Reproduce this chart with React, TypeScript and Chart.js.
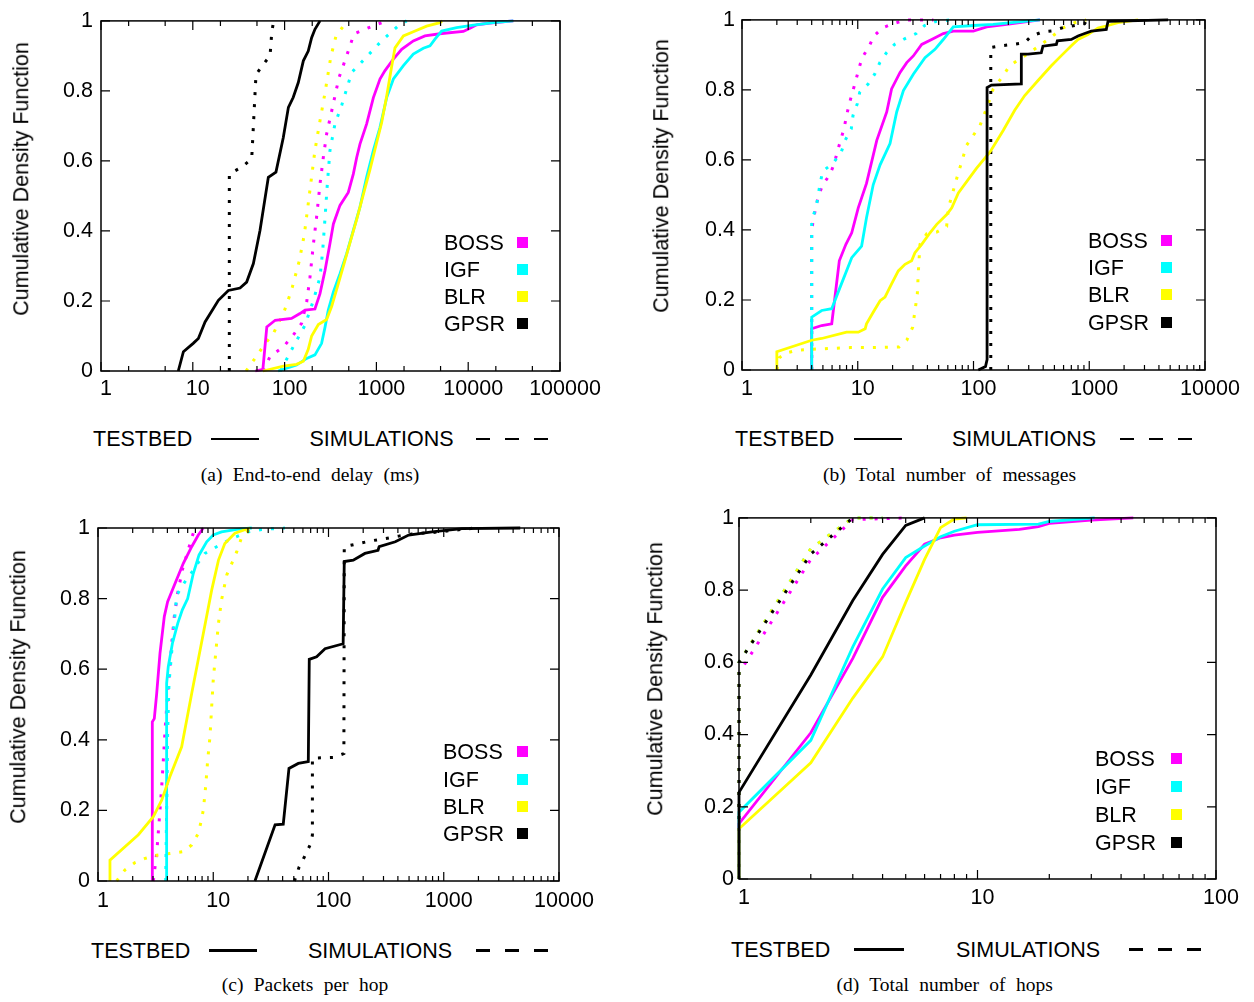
import React, { useEffect, useRef } from "react";
import { Chart, registerables } from "chart.js";

Chart.register(...registerables);

type Pt = [number, number];

// ---------- (a) End-to-end delay (ms) ----------
const delayBossTestbed: Pt[] = [[48,0],[58,0.005],[64,0.126],[79,0.145],[119,0.15],[147,0.164],[167,0.174],[214,0.177],[243,0.221],[276,0.288],[312,0.364],[340,0.42],[401,0.473],[494,0.51],[561,0.563],[610,0.61],[662,0.648],[783,0.706],[927,0.781],[1094,0.834],[1241,0.858],[1531,0.891],[1884,0.919],[2523,0.943],[3380,0.957],[5140,0.964],[8850,0.97],[10470,0.979],[12360,0.989],[17270,0.994],[31000,1]];
const delayIgfTestbed: Pt[] = [[85,0],[135,0.017],[174,0.036],[214,0.046],[253,0.079],[276,0.126],[299,0.174],[340,0.226],[401,0.278],[474,0.335],[561,0.402],[662,0.468],[783,0.554],[927,0.63],[1094,0.696],[1294,0.781],[1531,0.834],[1968,0.872],[2523,0.905],[3243,0.922],[3836,0.929],[4345,0.948],[5140,0.971],[7480,0.981],[11370,0.988],[18790,0.995],[31000,1]];
const delayBlrTestbed: Pt[] = [[58,0],[97,0.014],[135,0.019],[160,0.028],[181,0.062],[197,0.1],[233,0.133],[287,0.147],[326,0.185],[369,0.233],[436,0.299],[515,0.366],[610,0.433],[720,0.504],[851,0.575],[1006,0.652],[1140,0.709],[1294,0.785],[1466,0.87],[1594,0.923],[1968,0.957],[2523,0.969],[3524,0.985],[4930,0.995],[5200,1]];
const delayGpsrTestbed: Pt[] = [[6.95,0],[7.9,0.055],[10.1,0.079],[11.5,0.093],[13.6,0.14],[19,0.202],[24.4,0.23],[32.7,0.237],[38.6,0.254],[45.7,0.307],[54,0.402],[66.5,0.553],[80.5,0.568],[96.8,0.667],[110,0.753],[124,0.781],[141,0.824],[160,0.886],[181,0.914],[197,0.952],[214,0.976],[243,1]];
const delayBossSim: Pt[] = [[58.6,0],[69.3,0.041],[97,0.069],[124,0.102],[153,0.136],[174,0.197],[189,0.268],[206,0.363],[223,0.439],[243,0.534],[264,0.61],[287,0.677],[326,0.743],[391,0.838],[474,0.9],[570,0.963],[966,0.988],[1294,1]];
const delayIgfSim: Pt[] = [[90,0],[124,0.069],[167,0.131],[206,0.202],[243,0.268],[260,0.344],[276,0.439],[292,0.534],[312,0.63],[354,0.706],[419,0.759],[538,0.853],[662,0.877],[1140,0.943],[1733,0.986],[2138,1]];
const delayBlrSim: Pt[] = [[38,0],[47.6,0.036],[59.7,0.074],[75.4,0.107],[98.5,0.169],[119,0.231],[145,0.316],[164,0.39],[178,0.463],[192,0.532],[214,0.63],[243,0.715],[276,0.796],[318,0.896],[363,0.957],[482,1]];
const delayGpsrSim: Pt[] = [[25,0],[25,0.563],[34,0.582],[43.8,0.606],[44.5,0.64],[48.8,0.847],[58.6,0.876],[69.3,0.9],[71,0.933],[72.3,0.966],[76,1]];

// ---------- (b) Total number of messages ----------
const msgBossTestbed: Pt[] = [[4,0],[4,0.118],[4.88,0.127],[5.96,0.132],[6.93,0.312],[7.9,0.359],[8.87,0.392],[10.1,0.463],[11.9,0.533],[14.6,0.656],[17.8,0.737],[19.6,0.803],[23.2,0.85],[26.5,0.878],[30.2,0.897],[35.7,0.93],[43.5,0.944],[54.8,0.961],[66.9,0.968],[99.6,0.968],[130,0.98],[194,0.987],[375,1]];
const msgIgfTestbed: Pt[] = [[4,0],[4,0.151],[4.88,0.17],[5.96,0.175],[7.03,0.236],[8.87,0.321],[10.8,0.354],[11.9,0.435],[13.6,0.529],[15.6,0.586],[19,0.647],[21.7,0.737],[24.8,0.798],[30.2,0.845],[38.1,0.892],[46.5,0.916],[54.8,0.944],[66.9,0.98],[99.6,0.984],[148,0.987],[375,1]];
const msgBlrTestbed: Pt[] = [[2,0],[2,0.052],[4,0.085],[4.88,0.09],[8,0.108],[10.1,0.108],[11.6,0.118],[11.9,0.132],[13.6,0.165],[15.6,0.198],[17.2,0.208],[19.6,0.246],[22.4,0.283],[25.6,0.302],[29.2,0.312],[31.2,0.335],[35.7,0.359],[42.1,0.392],[48.1,0.416],[58.7,0.444],[64.9,0.463],[74,0.506],[106,0.576],[139,0.623],[181,0.685],[227,0.742],[277,0.784],[361,0.827],[470,0.869],[574,0.898],[700,0.926],[800,0.944],[975,0.958],[1190,0.977],[1452,0.984],[1770,0.992],[2640,1]];
const msgGpsrTestbed: Pt[] = [[110,0],[127,0.01],[131,0.03],[131,0.807],[143,0.814],[259,0.817],[259,0.902],[296,0.902],[385,0.906],[398,0.925],[520,0.93],[530,0.94],[700,0.944],[800,0.954],[912,0.961],[1042,0.968],[1404,0.973],[1452,0.996],[4800,1]];
const msgBossSim: Pt[] = [[4,0],[4,0.397],[4.13,0.43],[4.56,0.496],[4.98,0.529],[5.72,0.557],[6.23,0.587],[6.66,0.623],[7.12,0.657],[7.6,0.689],[7.96,0.722],[8.39,0.757],[8.97,0.791],[9.6,0.826],[10.2,0.859],[10.9,0.892],[12.4,0.921],[13.8,0.954],[16.3,0.977],[20.1,0.989],[26.3,1],[45,1]];
const msgIgfSim: Pt[] = [[4,0],[4,0.43],[4.36,0.462],[4.72,0.531],[4.98,0.568],[6.11,0.59],[7.21,0.623],[7.81,0.657],[8.79,0.689],[9.1,0.727],[9.9,0.76],[10.4,0.793],[12.3,0.817],[14,0.845],[15.5,0.878],[17.7,0.906],[20.8,0.93],[25.4,0.946],[32,0.961],[37.8,0.984],[47.6,0.996],[64.2,1]];
const msgBlrSim: Pt[] = [[2,0],[2.1,0.035],[2.42,0.049],[3.05,0.057],[5.21,0.061],[8.57,0.064],[13.8,0.064],[22.8,0.066],[26.5,0.085],[29.8,0.122],[32.7,0.217],[33.4,0.283],[34.5,0.359],[39.4,0.389],[48.1,0.394],[58.6,0.41],[60.6,0.462],[71.6,0.547],[87.3,0.642],[114,0.699],[134,0.76],[148,0.803],[180,0.84],[205,0.869],[306,0.907],[441,0.944],[593,0.977],[748,0.992],[944,1]];
const msgGpsrSim: Pt[] = [[141,0],[141,0.921],[174,0.926],[219,0.93],[277,0.935],[316,0.954],[398,0.966],[486,0.969],[593,0.978],[912,0.989],[950,1]];

// ---------- (c) Packets per hop ----------
const pktBossTestbed: Pt[] = [[2.96,0],[2.96,0.451],[3.08,0.46],[3.23,0.531],[3.45,0.645],[3.76,0.749],[4.02,0.791],[4.66,0.843],[5.5,0.9],[6.5,0.947],[7.42,0.98],[8.2,1]];
const pktIgfTestbed: Pt[] = [[3.94,0],[3.94,0.56],[4.07,0.607],[4.42,0.673],[4.92,0.73],[5.39,0.768],[6,0.8],[6.71,0.871],[7.52,0.923],[8.77,0.961],[10,0.98],[11.8,0.989],[16,0.996],[21.6,1]];
const pktBlrTestbed: Pt[] = [[1.27,0],[1.27,0.059],[2.24,0.131],[3.02,0.182],[3.57,0.229],[4.21,0.296],[5.32,0.38],[6.5,0.531],[8.2,0.701],[9.69,0.824],[11.1,0.909],[12.6,0.956],[15.4,0.985],[20.8,1]];
const pktGpsrTestbed: Pt[] = [[23,0],[34.4,0.159],[40.5,0.161],[45.4,0.319],[54.7,0.333],[66.8,0.338],[68.1,0.628],[78.9,0.635],[93.3,0.658],[134,0.672],[137,0.905],[164,0.909],[207,0.928],[269,0.937],[275,0.947],[380,0.961],[496,0.98],[791,0.989],[1440,0.998],[4610,1]];
const pktBossSim: Pt[] = [[3.02,0],[3.23,0.078],[3.4,0.173],[3.57,0.267],[3.69,0.343],[3.82,0.428],[4.02,0.531],[4.21,0.607],[4.36,0.673],[4.59,0.749],[4.91,0.815],[5.39,0.881],[6,0.933],[6.58,0.977],[6.95,1]];
const pktIgfSim: Pt[] = [[3.87,0],[3.91,0.126],[3.97,0.267],[4.02,0.418],[4.13,0.56],[4.3,0.626],[4.5,0.701],[4.82,0.81],[5.61,0.845],[6.41,0.871],[7.33,0.9],[8.48,0.928],[10.7,0.947],[14.5,0.97],[20.1,0.989],[26.3,0.996],[41.9,1]];
const pktBlrSim: Pt[] = [[1.45,0],[1.71,0.031],[2.09,0.052],[2.56,0.064],[3.23,0.073],[4.21,0.078],[5.5,0.083],[6.5,0.102],[7.42,0.135],[7.83,0.168],[8.2,0.201],[8.59,0.267],[8.95,0.343],[9.37,0.409],[9.69,0.494],[10,0.57],[10.5,0.645],[11.1,0.73],[11.8,0.796],[13.1,0.867],[14.5,0.9],[16,0.933],[17.7,0.975],[20.4,0.994],[23,1]];
const pktGpsrSim: Pt[] = [[50.6,0],[55.5,0.039],[61.7,0.068],[69.2,0.102],[72.5,0.13],[72.5,0.348],[111,0.35],[136,0.361],[137,0.947],[183,0.956],[238,0.964],[311,0.97],[406,0.977],[530,0.983],[791,0.987],[1346,0.995],[1880,1]];

// ---------- (d) Total number of hops ----------
const hopBossTestbed: Pt[] = [[1,0],[1,0.153],[2,0.405],[3,0.611],[4,0.78],[5,0.867],[6,0.927],[7,0.945],[8,0.952],[10,0.96],[15,0.968],[18,0.976],[20,0.985],[30,0.994],[45,1]];
const hopIgfTestbed: Pt[] = [[1,0],[1,0.185],[2,0.384],[3,0.643],[4,0.803],[5,0.89],[6,0.922],[7,0.948],[8,0.963],[10,0.981],[18,0.983],[20,0.99],[31,1]];
const hopBlrTestbed: Pt[] = [[1,0],[1,0.139],[2,0.322],[3,0.501],[4,0.615],[5,0.766],[6,0.885],[7,0.973],[8,0.997],[9,1]];
const hopGpsrTestbed: Pt[] = [[1,0],[1,0.24],[2,0.565],[3,0.771],[4,0.899],[5,0.979],[6,1]];
const hopBossSim: Pt[] = [[1,0],[1,0.57],[2,0.885],[3,0.995],[5,1]];
const hopIgfSim: Pt[] = [[1,0],[1,0.6],[2,0.915],[3,1],[4,1]];
const hopBlrSim: Pt[] = [[1,0],[1,0.6],[2,0.915],[3,1],[4,1]];
const hopGpsrSim: Pt[] = [[1,0],[1,0.6],[2,0.9],[3,1]];

// ---------- shared labels / ticks ----------
const seriesNames = ["BOSS", "IGF", "BLR", "GPSR"];
const seriesColors = ["#ff00ff", "#00ffff", "#ffff00", "#000000"];
const yTickValues = [0, 0.2, 0.4, 0.6, 0.8, 1];
const yTickLabels = ["0", "0.2", "0.4", "0.6", "0.8", "1"];
const delayXTicks = [1, 10, 100, 1000, 10000, 100000];
const msgXTicks = [1, 10, 100, 1000, 10000];
const pktXTicks = [1, 10, 100, 1000, 10000];
const hopXTicks = [1, 10, 100];
const yTitle = "Cumulative Density Function";
const testbedLabel = "TESTBED";
const simLabel = "SIMULATIONS";

const SANS = '"Liberation Sans", Arial, Helvetica, sans-serif';
const SERIF = '"Liberation Serif", "Times New Roman", Times, serif';
const FS = 21.5;

Chart.defaults.font.family = SANS;
Chart.defaults.color = "#000";

const panels: any[] = [
  {
    left: 0, top: 0, w: 627, h: 420, area: { left: 101, top: 20, right: 560, bottom: 371 },
    xTicks: delayXTicks, minor: [2, 5], xPad: 5, yPad: 8,
    testbed: [delayBossTestbed, delayIgfTestbed, delayBlrTestbed, delayGpsrTestbed],
    sims: [delayBossSim, delayIgfSim, delayBlrSim, delayGpsrSim],
    yt: { x: 22, y: 178.5 },
    lg: { text: 444, box: 517, y0: 242.2, pitch: 27.1 },
    bl: { y: 440, tb: 93, line: 211, lineW: 48, sim: 309.5, dash: 476, dashW: 73 },
    cap: { text: "(a) End-to-end delay (ms)", x: 310, y: 475 },
  },
  {
    left: 630, top: 0, w: 620, h: 420, area: { left: 112, top: 17, right: 575, bottom: 370 },
    xTicks: msgXTicks, minor: [2, 3, 4, 5, 6, 7, 8, 9], xPad: 6, yPad: 7,
    testbed: [msgBossTestbed, msgIgfTestbed, msgBlrTestbed, msgGpsrTestbed],
    sims: [msgBossSim, msgIgfSim, msgBlrSim, msgGpsrSim],
    yt: { x: 662, y: 176 },
    lg: { text: 1088, box: 1161, y0: 240.5, pitch: 27.2 },
    bl: { y: 440, tb: 735, line: 853.5, lineW: 48.5, sim: 952, dash: 1120, dashW: 74 },
    cap: { text: "(b) Total number of messages", x: 949.5, y: 475 },
  },
  {
    left: 0, top: 500, w: 627, h: 420, area: { left: 98, top: 28, right: 559, bottom: 381 },
    xTicks: pktXTicks, minor: [2, 3, 4, 5, 6, 7, 8, 9], xPad: 7, yPad: 8,
    testbed: [pktBossTestbed, pktIgfTestbed, pktBlrTestbed, pktGpsrTestbed],
    sims: [pktBossSim, pktIgfSim, pktBlrSim, pktGpsrSim],
    yt: { x: 18.7, y: 686.7 },
    lg: { text: 443, box: 517, y0: 751.7, pitch: 27.3 },
    bl: { y: 951.5, tb: 91, line: 209, lineW: 48, sim: 308, dash: 475.5, dashW: 73 },
    cap: { text: "(c) Packets per hop", x: 305, y: 985 },
  },
  {
    left: 630, top: 500, w: 620, h: 420, area: { left: 109, top: 15, right: 586, bottom: 379 },
    xTicks: hopXTicks, minor: [2, 3, 4, 5, 6, 7, 8, 9], xPad: 6, yPad: 5,
    testbed: [hopBossTestbed, hopIgfTestbed, hopBlrTestbed, hopGpsrTestbed],
    sims: [hopBossSim, hopIgfSim, hopBlrSim, hopGpsrSim],
    yt: { x: 656.3, y: 679 },
    lg: { text: 1095, box: 1171, y0: 758.8, pitch: 27.9 },
    bl: { y: 950.5, tb: 731, line: 854, lineW: 50, sim: 956, dash: 1128.5, dashW: 75.5 },
    cap: { text: "(d) Total number of hops", x: 944.6, y: 985 },
  },
];

const framePlugin = {
  id: "gnuFrame",
  afterDatasetsDraw(chart: any, _args: any, opts: any) {
    const { ctx, chartArea, scales } = chart;
    const { left, top, right, bottom } = chartArea;
    const x = scales.x;
    const y = scales.y;
    ctx.save();
    ctx.strokeStyle = "#000";
    ctx.lineWidth = 1.5;
    ctx.strokeRect(left, top, right - left, bottom - top);
    ctx.lineWidth = 1.2;
    ctx.beginPath();
    const xmax = x.max;
    for (let d = x.min; d <= xmax * 1.0001; d *= 10) {
      const px = x.getPixelForValue(d);
      ctx.moveTo(px, bottom); ctx.lineTo(px, bottom - 9);
      ctx.moveTo(px, top); ctx.lineTo(px, top + 9);
      for (const m of opts.minor) {
        const v = d * m;
        if (v >= xmax) break;
        const p = x.getPixelForValue(v);
        ctx.moveTo(p, bottom); ctx.lineTo(p, bottom - 5);
        ctx.moveTo(p, top); ctx.lineTo(p, top + 5);
      }
    }
    for (const v of yTickValues) {
      const py = y.getPixelForValue(v);
      ctx.moveTo(left, py); ctx.lineTo(left + 9, py);
      ctx.moveTo(right, py); ctx.lineTo(right - 9, py);
    }
    ctx.stroke();
    ctx.restore();
  },
};

function buildDatasets(testbed: Pt[][], sims: Pt[][]) {
  const ds: any[] = [];
  sims.forEach((s, i) => {
    ds.push({
      label: seriesNames[i] + " " + simLabel,
      data: s.map(([x, y]) => ({ x, y })),
      borderColor: seriesColors[i],
      backgroundColor: seriesColors[i],
      borderWidth: 3,
      borderDash: [3, 9],
      borderCapStyle: "butt",
      pointRadius: 0,
      tension: 0,
      fill: false,
      clip: 6,
      order: 20 - i,
    });
  });
  testbed.forEach((s, i) => {
    ds.push({
      label: seriesNames[i] + " " + testbedLabel,
      data: s.map(([x, y]) => ({ x, y })),
      borderColor: seriesColors[i],
      backgroundColor: seriesColors[i],
      borderWidth: 2.8,
      pointRadius: 0,
      tension: 0,
      fill: false,
      clip: 6,
      order: 10 - i,
    });
  });
  return ds;
}

function Panel({ p }: { p: any }) {
  const ref = useRef<HTMLCanvasElement>(null);
  useEffect(() => {
    const canvas = ref.current;
    if (!canvas) return;
    const xh = 36;
    const chart = new Chart(canvas, {
      type: "line",
      data: { datasets: buildDatasets(p.testbed, p.sims) },
      plugins: [framePlugin as any],
      options: {
        animation: false,
        responsive: false,
        events: [],
        layout: {
          padding: { left: 0, top: p.area.top, right: p.w - p.area.right, bottom: p.h - p.area.bottom - xh },
        },
        scales: {
          x: {
            type: "logarithmic",
            min: p.xTicks[0],
            max: p.xTicks[p.xTicks.length - 1],
            afterFit: (s: any) => { s.height = xh; },
            afterBuildTicks: (s: any) => { s.ticks = p.xTicks.map((v: number) => ({ value: v })); },
            ticks: {
              autoSkip: false, maxRotation: 0, minRotation: 0,
              padding: p.xPad, labelOffset: 5, color: "#000",
              font: { size: FS, family: SANS },
              callback: (v: any) => String(v),
            },
            grid: { display: false, drawTicks: false },
            border: { display: false },
          },
          y: {
            type: "linear",
            min: 0,
            max: 1,
            afterFit: (s: any) => { s.width = p.area.left; },
            afterBuildTicks: (s: any) => { s.ticks = yTickValues.map((v) => ({ value: v })); },
            ticks: {
              autoSkip: false, padding: p.yPad, color: "#000",
              font: { size: FS, family: SANS },
              callback: (_v: any, i: number) => yTickLabels[i],
            },
            grid: { display: false, drawTicks: false },
            border: { display: false },
          },
        },
        plugins: {
          legend: { display: false },
          tooltip: { enabled: false },
          gnuFrame: { minor: p.minor },
        } as any,
      } as any,
    });
    return () => chart.destroy();
  }, [p]);

  const txt: any = { position: "absolute", fontFamily: SANS, fontSize: FS, lineHeight: 1, whiteSpace: "nowrap", color: "#000" };
  return (
    <>
      <canvas
        ref={ref}
        width={p.w}
        height={p.h}
        style={{ position: "absolute", left: p.left, top: p.top, width: p.w, height: p.h }}
      />
      <div style={{ ...txt, left: p.yt.x, top: p.yt.y, transform: "translate(-50%, -50%) rotate(-90deg)" }}>{yTitle}</div>
      {seriesNames.map((n, i) => (
        <React.Fragment key={n}>
          <div style={{ ...txt, left: p.lg.text, top: p.lg.y0 + i * p.lg.pitch + 1.5, transform: "translateY(-50%)" }}>{n}</div>
          <div style={{ position: "absolute", left: p.lg.box, top: p.lg.y0 + i * p.lg.pitch - 5.5, width: 11, height: 11, background: seriesColors[i] }} />
        </React.Fragment>
      ))}
      <div style={{ ...txt, left: p.bl.tb, top: p.bl.y, transform: "translateY(-50%)" }}>{testbedLabel}</div>
      <div style={{ position: "absolute", left: p.bl.line, top: p.bl.y - 2.5, width: p.bl.lineW, height: 2.5, background: "#000" }} />
      <div style={{ ...txt, left: p.bl.sim, top: p.bl.y, transform: "translateY(-50%)" }}>{simLabel}</div>
      <div
        style={{
          position: "absolute", left: p.bl.dash, top: p.bl.y - 2.5, width: p.bl.dashW, height: 2.5,
          background: "repeating-linear-gradient(to right, #000 0px, #000 14px, transparent 14px, transparent 29px)",
        }}
      />
      <div
        style={{
          position: "absolute", left: p.cap.x, top: p.cap.y, transform: "translate(-50%, -50%)",
          fontFamily: SERIF, fontSize: 19.5, lineHeight: 1, wordSpacing: "5.5px", whiteSpace: "nowrap", color: "#000",
        }}
      >
        {p.cap.text}
      </div>
    </>
  );
}

export default function App() {
  return (
    <div style={{ position: "absolute", left: 0, top: 0, width: 1254, height: 1002, background: "#fff", overflow: "hidden" }}>
      {panels.map((p, i) => (
        <Panel key={i} p={p} />
      ))}
    </div>
  );
}
